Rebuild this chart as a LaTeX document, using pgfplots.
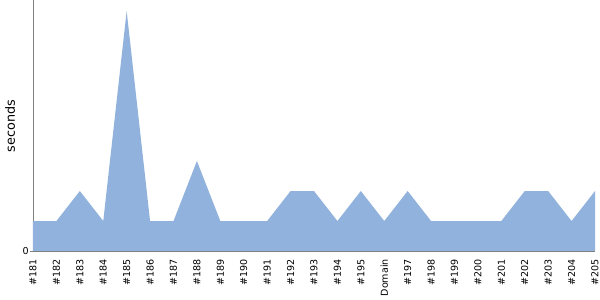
\documentclass[border=0pt]{standalone}
\usepackage{pgfplots}
\pgfplotsset{compat=1.18}
\usepackage{fontspec}
\setmainfont{DejaVu Sans}
\definecolor{areafill}{RGB}{145,178,220}
\definecolor{axgray}{RGB}{128,128,128}
\begin{document}
\begin{tikzpicture}
\begin{axis}[
  scale only axis,
  width=562bp, height=251bp,
  xmin=0, xmax=24, ymin=0, ymax=8.37,
  axis lines*=left,
  axis line style={axgray, line width=0.8bp},
  xtick={0,...,24},
  xticklabels={\#181,\#182,\#183,\#184,\#185,\#186,\#187,\#188,\#189,\#190,\#191,\#192,\#193,\#194,\#195,Domain,\#197,\#198,\#199,\#200,\#201,\#202,\#203,\#204,\#205},
  x tick label style={rotate=90, anchor=east, font=\fontsize{9.6}{11}\selectfont, inner sep=0pt, xshift=0bp},
  xtick style={draw=none},
  xticklabel shift=5bp,
  ytick={0},
  yticklabel style={font=\fontsize{9.6}{11}\selectfont, inner sep=1bp},
  ytick style={axgray, line width=0.8bp},
  tick align=outside,
  major tick length=3bp,
  ylabel={seconds},
  every axis y label/.style={at={(-23bp,125bp)}, rotate=90, anchor=center, font=\fontsize{12.8}{14}\selectfont},
  /pgf/number format/assume math mode=true,
  clip=true,
]
\addplot[fill=areafill, draw=none] coordinates {
(0,1) (1,1) (2,2) (3,1) (4,8) (5,1) (6,1) (7,3) (8,1) (9,1) (10,1) (11,2) (12,2) (13,1) (14,2) (15,1) (16,2) (17,1) (18,1) (19,1) (20,1) (21,2) (22,2) (23,1) (24,2)
} \closedcycle;
\end{axis}
\pgfresetboundingbox
\path (-33bp,-49bp) rectangle (567bp,251bp);
\end{tikzpicture}
\end{document}
